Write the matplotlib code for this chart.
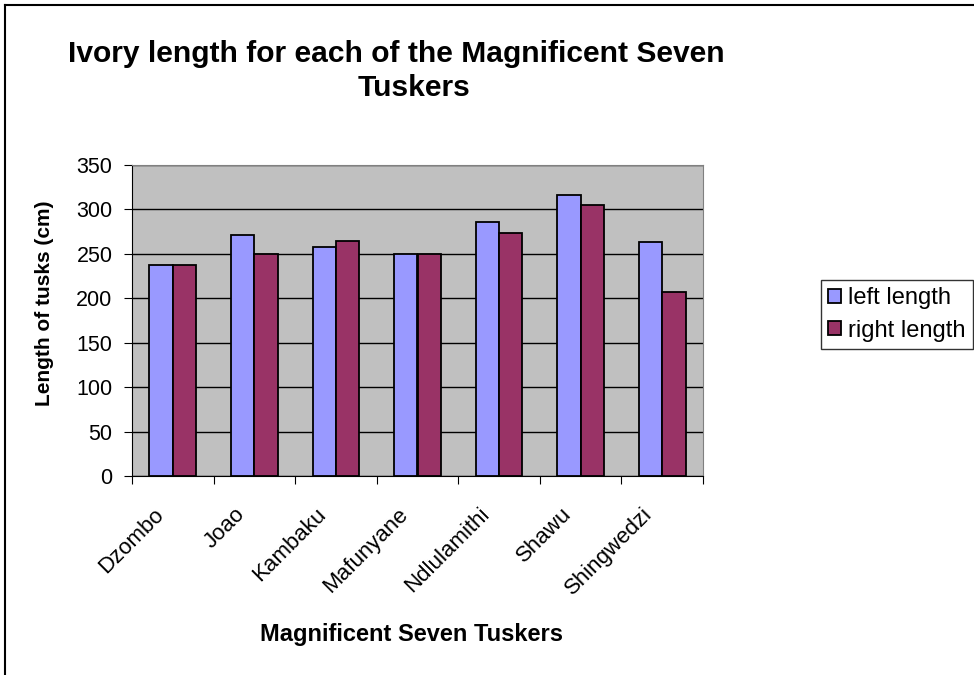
import numpy as np
import matplotlib.pyplot as plt
import matplotlib.transforms as mtransforms
from matplotlib.lines import Line2D

plt.rcParams['font.family'] = ['Liberation Sans', 'DejaVu Sans']

tuskers = ['Dzombo', 'Joao', 'Kambaku', 'Mafunyane', 'Ndlulamithi', 'Shawu', 'Shingwedzi']
left_length = [237, 271, 258, 250, 286, 316, 263]
right_length = [237, 250, 265, 250, 273, 305, 207]

fig = plt.figure(figsize=(9.74, 6.75), dpi=100)
ax = fig.add_axes([132 / 974, 1 - 476 / 675, 571 / 974, 311 / 675])

x = np.arange(len(tuskers))
w = 1 / 3.5
ax.bar(x - w / 2, left_length, width=w, color='#9999FF', edgecolor='black', linewidth=1.3,
       label='left length', zorder=3)
ax.bar(x + w / 2, right_length, width=w, color='#993366', edgecolor='black', linewidth=1.3,
       label='right length', zorder=3)

ax.set_facecolor('#C0C0C0')
ax.set_xlim(-0.5, len(tuskers) - 0.5)
ax.set_ylim(0, 350)
ax.set_yticks(range(0, 351, 50))
ax.yaxis.grid(True, color='black', linewidth=1)
ax.set_axisbelow(True)
for s in ['top', 'right']:
    ax.spines[s].set_color('#808080')
ax.spines['left'].set_color('black')
ax.spines['bottom'].set_color('black')

# boundary ticks, labels sit at the category centres
ax.set_xticks(np.arange(-0.5, len(tuskers), 1))
ax.set_xticklabels([])
ax.tick_params(axis='x', length=6, color='black')
ax.set_xticks(x, minor=True)
ax.set_xticklabels(tuskers, minor=True, rotation=45, ha='right', va='top',
                   rotation_mode='anchor', fontsize=16)
ax.tick_params(axis='x', which='minor', length=0, pad=20)
shift = mtransforms.ScaledTranslation(-0.2, 0, fig.dpi_scale_trans)
for lbl in ax.get_xticklabels(minor=True):
    lbl.set_transform(lbl.get_transform() + shift)
ax.tick_params(axis='y', labelsize=15.5, length=6, pad=8)

fig.text(45 / 974, 1 - 303 / 675, 'Length of tusks (cm)', rotation=90, ha='center', va='center',
         fontsize=15, fontweight='bold')
fig.text(411 / 974, 1 - 634 / 675, 'Magnificent Seven Tuskers', ha='center', va='center',
         fontsize=17, fontweight='bold')

fig.text(396 / 974, 1 - 54 / 675, 'Ivory length for each of the Magnificent Seven', ha='center',
         va='center', fontsize=21.6, fontweight='bold')
fig.text(414 / 974, 1 - 88 / 675, 'Tuskers', ha='center', va='center', fontsize=21.6, fontweight='bold')

leg = fig.legend(loc='upper left', bbox_to_anchor=(821 / 974, 1 - 280 / 675), fontsize=17,
                 frameon=True, fancybox=False, edgecolor='black', handlelength=0.55,
                 handleheight=0.55, handletextpad=0.3, borderpad=0.3, labelspacing=0.45,
                 borderaxespad=0)
leg.get_frame().set_linewidth(1)

# outer chart border (left and top visible)
fig.add_artist(Line2D([5 / 974, 5 / 974], [0, 1 - 5 / 675], transform=fig.transFigure,
                      color='black', linewidth=1.5))
fig.add_artist(Line2D([5 / 974, 1], [1 - 5 / 675, 1 - 5 / 675], transform=fig.transFigure,
                      color='black', linewidth=1.5))

plt.savefig('out.png', dpi=100)
